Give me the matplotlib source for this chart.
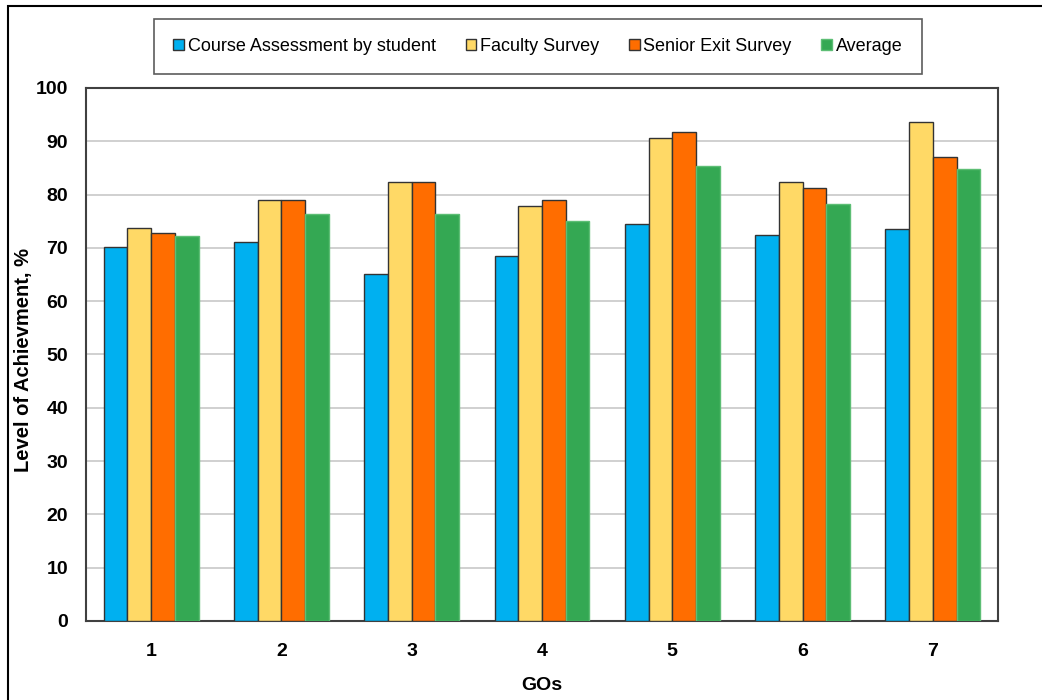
import numpy as np
import matplotlib.pyplot as plt
from matplotlib.patches import Rectangle

plt.rcParams['font.family'] = ['Liberation Sans', 'DejaVu Sans']

categories = ['1', '2', '3', '4', '5', '6', '7']
series_names = ['Course Assessment by student', 'Faculty Survey',
                'Senior Exit Survey', 'Average']
course_assessment = [70.2, 71.1, 65.1, 68.5, 74.5, 72.5, 73.5]
faculty_survey = [73.8, 78.9, 82.3, 77.8, 90.6, 82.3, 93.7]
senior_exit = [72.8, 78.9, 82.3, 78.9, 91.7, 81.2, 87.0]
average = [72.3, 76.3, 76.3, 75.0, 85.4, 78.3, 84.8]
y_ticks = [0, 10, 20, 30, 40, 50, 60, 70, 80, 90, 100]

colors = ['#00B0F0', '#FFD966', '#FF6D00', '#34A853']
edges = ['#333333', '#333333', '#333333', '#5DBE75']

fig = plt.figure(figsize=(10.42, 7.0), dpi=100)
ax = fig.add_axes([0.0825, 0.1129, 0.8753, 0.7614])

x = np.arange(len(categories))
width = 0.182
data = [course_assessment, faculty_survey, senior_exit, average]
handles = []
for i, (vals, c, ec) in enumerate(zip(data, colors, edges)):
    b = ax.bar(x + (i - 1.5) * width, vals, width, color=c, edgecolor=ec,
               linewidth=1.0, zorder=3, label=series_names[i])
    handles.append(b)

ax.set_xlim(-0.5, len(categories) - 0.5)
ax.set_ylim(0, 100)
ax.set_yticks(y_ticks)
ax.set_xticks(x)
ax.set_xticklabels(categories)
ax.yaxis.grid(True, color='#C8C8C8', linewidth=1.2, zorder=0)
ax.set_axisbelow(True)
ax.tick_params(axis='both', length=0, labelsize=14)
ax.tick_params(axis='y', pad=13)
ax.tick_params(axis='x', pad=16)
for lbl in ax.get_xticklabels() + ax.get_yticklabels():
    lbl.set_fontweight('bold')
for s in ax.spines.values():
    s.set_color('#404040')
    s.set_linewidth(1.5)

ax.set_ylabel('Level of Achievment, %', fontsize=14.5, fontweight='bold')
ax.yaxis.set_label_coords(-0.058, 0.49)
ax.set_xlabel('GOs', fontsize=14, fontweight='bold', labelpad=12)

leg = fig.legend(handles=handles, labels=series_names, loc='center',
                 bbox_to_anchor=(538 / 1042, 1 - 46.5 / 700), ncol=4,
                 frameon=True, fancybox=False, edgecolor='#333333',
                 fontsize=13, handlelength=0.6, handleheight=0.6,
                 handletextpad=0.2, columnspacing=1.65, borderpad=1.05)
leg.get_frame().set_linewidth(1.2)

# outer frame around the whole figure
fig.patches.append(Rectangle((8 / 1042, -0.05), 1.2, 1 - 6 / 700 + 0.05,
                             transform=fig.transFigure, fill=False,
                             edgecolor='black', linewidth=1.5))

fig.savefig('out.png', dpi=100)
